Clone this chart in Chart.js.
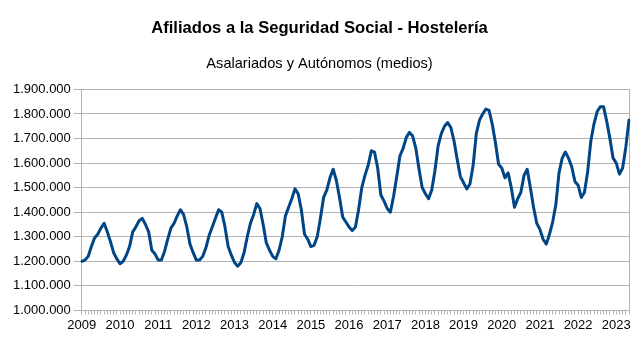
<!DOCTYPE html>
<html>
<head>
<meta charset="utf-8">
<script src="https://cdn.jsdelivr.net/npm/chart.js@4/dist/chart.umd.min.js"></script>
<style>
  body { margin: 0; background: #fff; }
  #wrap { width: 643px; height: 340px; }
</style>
</head>
<body>
<div id="wrap"><canvas id="chart" width="643" height="340"></canvas></div>
<script>
const years = ['2009', '2010', '2011', '2012', '2013', '2014', '2015', '2016', '2017', '2018', '2019', '2020', '2021', '2022', '2023'];
const months = ['01', '02', '03', '04', '05', '06', '07', '08', '09', '10', '11', '12'];

// afiliados medios por mes, ene..dic
const y2009 = [1200000, 1205000, 1220000, 1260000, 1295000, 1310000, 1335000, 1355000, 1320000, 1280000, 1235000, 1210000];
const y2010 = [1190000, 1200000, 1225000, 1260000, 1320000, 1340000, 1365000, 1375000, 1350000, 1320000, 1245000, 1230000];
const y2011 = [1205000, 1205000, 1240000, 1290000, 1335000, 1355000, 1385000, 1410000, 1390000, 1340000, 1270000, 1235000];
const y2012 = [1205000, 1205000, 1220000, 1255000, 1305000, 1340000, 1375000, 1410000, 1400000, 1340000, 1260000, 1225000];
const y2013 = [1195000, 1180000, 1195000, 1235000, 1300000, 1355000, 1390000, 1435000, 1415000, 1350000, 1275000, 1245000];
const y2014 = [1220000, 1210000, 1245000, 1300000, 1385000, 1420000, 1455000, 1495000, 1475000, 1410000, 1310000, 1290000];
const y2015 = [1260000, 1265000, 1300000, 1375000, 1460000, 1490000, 1540000, 1575000, 1530000, 1460000, 1380000, 1360000];
const y2016 = [1340000, 1325000, 1340000, 1410000, 1500000, 1550000, 1590000, 1650000, 1645000, 1580000, 1470000, 1445000];
const y2017 = [1415000, 1400000, 1465000, 1545000, 1630000, 1660000, 1705000, 1725000, 1710000, 1660000, 1575000, 1500000];
const y2018 = [1475000, 1455000, 1490000, 1570000, 1670000, 1720000, 1750000, 1765000, 1745000, 1690000, 1615000, 1545000];
const y2019 = [1520000, 1495000, 1515000, 1590000, 1720000, 1775000, 1800000, 1820000, 1815000, 1760000, 1685000, 1595000];
const y2020 = [1580000, 1540000, 1560000, 1500000, 1420000, 1455000, 1480000, 1550000, 1575000, 1500000, 1420000, 1355000];
const y2021 = [1330000, 1290000, 1270000, 1310000, 1360000, 1430000, 1560000, 1620000, 1645000, 1620000, 1585000, 1525000];
const y2022 = [1510000, 1460000, 1480000, 1565000, 1690000, 1760000, 1810000, 1830000, 1830000, 1770000, 1700000, 1620000];
const y2023 = [1600000, 1555000, 1580000, 1665000, 1775000];

const values = [].concat(y2009, y2010, y2011, y2012, y2013, y2014, y2015, y2016,
  y2017, y2018, y2019, y2020, y2021, y2022, y2023);

const labels = [];
years.forEach(y => months.forEach(m => labels.push(y + '-' + m)));
labels.length = values.length;

const yMin = 1000000, yMax = 1900000, yStep = 100000;

function fmt(v) {
  return String(v).replace(/\B(?=(\d{3})+(?!\d))/g, '.');
}

const FONT = 'Liberation Sans, Arial, sans-serif';
const GRID = '#b3b3b3';

new Chart(document.getElementById('chart'), {
  type: 'line',
  data: {
    labels,
    datasets: [{
      data: values,
      borderColor: '#004586',
      borderWidth: 3,
      borderJoinStyle: 'round',
      borderCapStyle: 'round',
      pointRadius: 0,
      tension: 0,
      fill: false
    }]
  },
  options: {
    responsive: false,
    animation: false,
    layout: { padding: { left: 10, right: 14, top: 0, bottom: 4 } },
    plugins: {
      legend: { display: false },
      tooltip: { enabled: false },
      title: {
        display: true,
        text: 'Afiliados a la Seguridad Social - Hostelería',
        color: '#000',
        font: { family: FONT, size: 16.6, weight: 'bold' },
        padding: { top: 18, bottom: 8 }
      },
      subtitle: {
        display: true,
        text: 'Asalariados y Autónomos (medios)',
        color: '#000',
        font: { family: FONT, size: 14.6 },
        padding: { top: 9, bottom: 17 }
      }
    },
    scales: {
      x: {
        ticks: {
          autoSkip: false,
          maxRotation: 0,
          color: '#000',
          font: { family: FONT, size: 13 },
          padding: 3,
          callback: (v, i) => (i % 12 === 0 ? years[i / 12] : '')
        },
        grid: { drawOnChartArea: false, tickLength: 4, color: GRID },
        border: { color: GRID }
      },
      y: {
        min: yMin,
        max: yMax,
        ticks: {
          stepSize: yStep,
          color: '#000',
          font: { family: FONT, size: 13 },
          padding: 3,
          callback: v => fmt(v)
        },
        grid: { color: GRID, tickLength: 8 },
        border: { color: GRID }
      },
      y2: {
        position: 'right',
        min: yMin,
        max: yMax,
        ticks: { display: false },
        grid: { drawOnChartArea: false, drawTicks: false },
        border: { color: GRID }
      }
    }
  }
});
</script>
</body>
</html>
